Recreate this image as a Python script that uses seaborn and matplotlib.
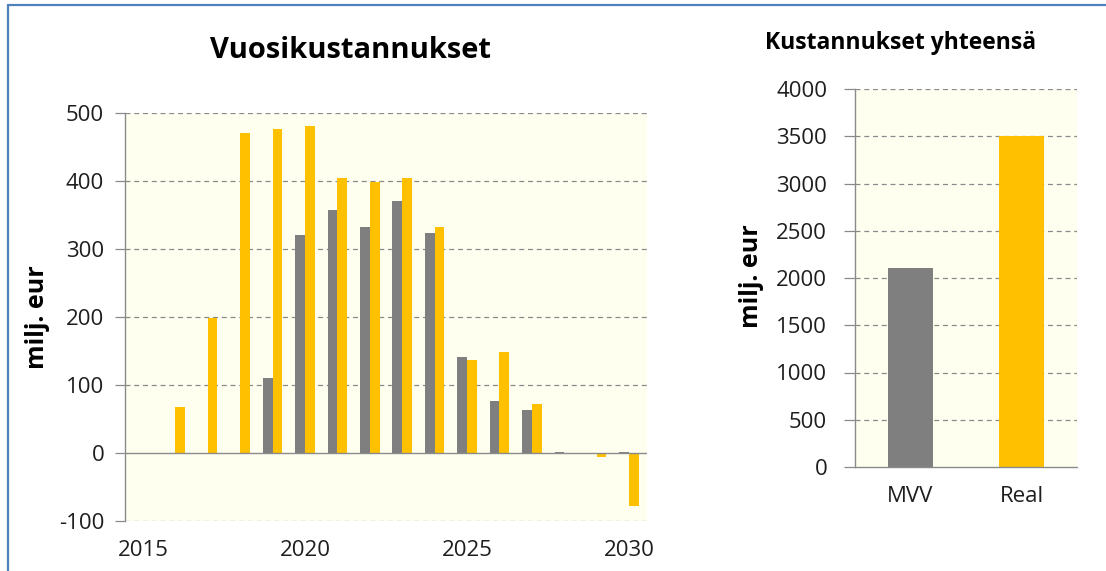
import matplotlib
matplotlib.use("Agg")
import matplotlib.pyplot as plt
from matplotlib.lines import Line2D
import seaborn as sns
import pandas as pd

# ---- data ----
years = [2016, 2017, 2018, 2019, 2020, 2021, 2022, 2023, 2024, 2025, 2026, 2027, 2028, 2029, 2030]
mvv = [0, 0, 0, 110, 320, 358, 332, 370, 324, 141, 77, 63, 2, -2, 2]
real = [68, 199, 471, 476, 481, 405, 399, 405, 332, 137, 148, 72, 0, -6, -78]
series_names = ["MVV", "Real"]
year_axis = [str(y) for y in range(2015, 2031)]
xtick_labels = ["2015", "2020", "2025", "2030"]
total_labels = ["MVV", "Real"]
total_values = [2110, 3500]
left_yticks = [-100, 0, 100, 200, 300, 400, 500]
right_yticks = [0, 500, 1000, 1500, 2000, 2500, 3000, 3500, 4000]

title_left = "Vuosikustannukset"
title_right = "Kustannukset yhteensä"
ylabel = "milj. eur"

GREY = "#7f7f7f"
GOLD = "#ffc000"
BG = "#fffff0"
LINE = "#8a8a8a"
TXT = "#1e1e1e"

df = pd.DataFrame({
    "year": [str(y) for y in years] * 2,
    "series": [series_names[0]] * len(years) + [series_names[1]] * len(years),
    "value": mvv + real,
})

sns.set_theme(style="white")
plt.rcParams["font.family"] = ["Open Sans", "DejaVu Sans"]

W, H = 1106, 571
fig = plt.figure(figsize=(W / 100, H / 100), dpi=100)
fig.patch.set_facecolor("white")

def fx(px):
    return px / W

def fy(py):
    return 1 - py / H

TICK_FS = 16

# ---- left chart ----
axL = fig.add_axes([fx(125), fy(521), fx(647) - fx(125), fy(113) - fy(521)])
sns.barplot(data=df, x="year", y="value", hue="series", order=year_axis,
            hue_order=series_names, palette=[GREY, GOLD], width=0.6,
            saturation=1, legend=False, linewidth=0, ax=axL, errorbar=None)
axL.set_facecolor(BG)
axL.set_xlim(-0.55, len(year_axis) - 0.45)
axL.set_ylim(-100, 500)
axL.set_yticks(left_yticks)
axL.set_yticklabels([str(v) for v in left_yticks])
axL.set_xticks([year_axis.index(t) for t in xtick_labels])
axL.set_xticklabels(xtick_labels)
for v in left_yticks:
    if v != 0:
        axL.axhline(v, color=LINE, lw=0.9, ls=(0, (4, 3)), zorder=0.5)
axL.axhline(0, color=LINE, lw=1.0, zorder=3)
for s in ["top", "right", "bottom"]:
    axL.spines[s].set_visible(False)
axL.spines["left"].set_color(LINE)
axL.spines["left"].set_linewidth(1.0)
axL.tick_params(axis="y", direction="out", length=7, width=0.9, color=LINE,
                pad=8, labelsize=TICK_FS, labelcolor=TXT, left=True)
axL.tick_params(axis="x", length=0, pad=14, labelsize=TICK_FS, labelcolor=TXT)
axL.set_xlabel("")
axL.set_ylabel("")

# ---- right chart ----
axR = fig.add_axes([fx(855), fy(467), fx(1077) - fx(855), fy(89) - fy(467)])
sns.barplot(x=total_labels, y=total_values, hue=total_labels,
            palette=[GREY, GOLD], width=0.4, saturation=1, legend=False,
            linewidth=0, ax=axR, errorbar=None)
axR.set_facecolor(BG)
axR.set_xlim(-0.5, 1.5)
axR.set_ylim(0, 4000)
axR.set_yticks(right_yticks)
axR.set_yticklabels([str(v) for v in right_yticks])
for v in right_yticks:
    if v != 0:
        axR.axhline(v, color=LINE, lw=0.9, ls=(0, (4, 3)), zorder=0.5)
axR.axhline(0, color=LINE, lw=1.0, zorder=3, clip_on=False)
for s in ["top", "right", "bottom"]:
    axR.spines[s].set_visible(False)
axR.spines["left"].set_color(LINE)
axR.spines["left"].set_linewidth(1.0)
axR.tick_params(axis="y", direction="out", length=8, width=0.9, color=LINE,
                pad=12, labelsize=TICK_FS, labelcolor=TXT, left=True)
axR.tick_params(axis="x", length=0, pad=14, labelsize=TICK_FS, labelcolor=TXT)
axR.set_xlabel("")
axR.set_ylabel("")

# ---- titles and labels ----
fig.text(fx(351), fy(50), title_left, ha="center", va="center",
         fontsize=21, fontweight="bold", color="#000000")
fig.text(fx(901), fy(43), title_right, ha="center", va="center",
         fontsize=16.5, fontweight="bold", color="#000000")
fig.text(fx(38), fy(317), ylabel, ha="center", va="center", rotation=90,
         fontsize=18, fontweight="bold", color="#000000")
fig.text(fx(752), fy(276), ylabel, ha="center", va="center", rotation=90,
         fontsize=18, fontweight="bold", color="#000000")

# ---- frame border ----
fig.add_artist(Line2D([fx(8), 1], [fy(5), fy(5)], color="#4f81bd", lw=1.6,
                      transform=fig.transFigure))
fig.add_artist(Line2D([fx(8), fx(8)], [0, fy(5)], color="#4f81bd", lw=1.6,
                      transform=fig.transFigure))

fig.savefig("out.png", dpi=100, facecolor="white")
